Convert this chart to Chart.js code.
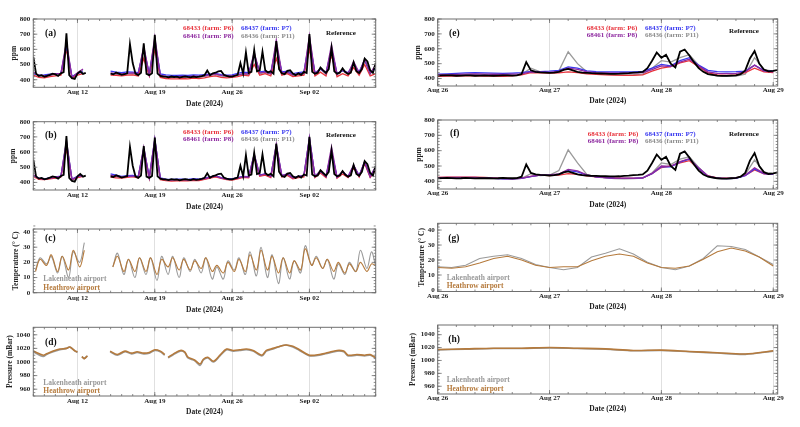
<!DOCTYPE html>
<html>
<head>
<meta charset="utf-8">
<script src="https://cdn.jsdelivr.net/npm/chart.js@4.4.1/dist/chart.umd.min.js"></script>
<style>
  body { margin: 0; background: #fff; width: 800px; height: 427px; overflow: hidden; position: relative; }
  canvas { position: absolute; }
</style>
</head>
<body>
<canvas id="pa"></canvas>
<canvas id="pb"></canvas>
<canvas id="pc"></canvas>
<canvas id="pd"></canvas>
<canvas id="pe"></canvas>
<canvas id="pf"></canvas>
<canvas id="pg"></canvas>
<canvas id="ph"></canvas>
<script>
// ---- left column: days since Aug 8 2024 ----
const longTickDays = [4, 11, 18, 25];
const longTickLabels = ['Aug 12', 'Aug 19', 'Aug 26', 'Sep 02'];

// reference analyser, every 6 h (same trace in a and b)
const refPpmLong = [
  550, 440, 425, 430,  420, 425, 432, 440,  435, 425, 442, 450,  705, 430, 410, 405,
  440, 455, 438, 445,  null, null, null, null,  null, null, null, null,  440, 435, 447, 440,
  432, 436, 442, 635,  510, 440, 430, 445,  640, 438, 430, 442,  695, 440, 425, 420,
  420, 415, 421, 418,  420, 414, 418, 422,  418, 415, 421, 417,  420, 424, 430, 460,
  430, 442, 446, 455,  458, 432, 425, 420,  420, 426, 432, 510,  440, 580, 445, 452,
  595, 455, 462, 585,  462, 448, 456, 440,  655, 470, 442, 436,  458, 462, 440, 430,
  442, 432, 452, 445,  700, 452, 440, 446,  480, 462, 445, 470,  610, 455, 440, 446,
  475, 450, 438, 447,  515, 456, 444, 470,  540, 520, 462, 445,  510
];

// sensors every 12 h, raw (a)
const p6Raw = [430,415, 412,420, 425,430, 600,410, 430,440, null,null, null,null, 430,428, 425,430, 432,425, 540,425, 600,415, 408,405, 405,408, 405,410, 408,412, 420,425, 415,412, 415,420, 430,425, 500,430, 440,425, 540,430, 440,420, 425,430, 600,425, 450,425, 560,420, 440,425, 480,430, 500,425, 440];
const p7Raw = [440,430, 432,436, 440,442, 620,420, 442,452, null,null, null,null, 456,450, 446,452, 450,446, 600,440, 650,438, 432,428, 428,430, 428,431, 430,434, 436,442, 433,430, 432,442, 450,446, 560,452, 456,446, 620,452, 456,440, 446,452, 650,446, 470,446, 600,442, 460,446, 500,452, 530,446, 470];
const p8Raw = [450,428, 425,430, 438,442, 650,415, 446,470, null,null, null,null, 445,440, 438,442, 445,440, 620,435, 680,430, 422,420, 420,422, 420,423, 422,426, 432,438, 428,425, 425,432, 440,438, 580,445, 450,440, 660,445, 450,432, 438,442, 690,440, 475,440, 630,436, 465,440, 520,445, 535,440, 500];
const p11Raw = [445,425, 422,428, 435,438, 640,412, 440,460, null,null, null,null, 440,436, 435,438, 440,436, 610,432, 670,426, 418,416, 416,418, 416,419, 418,422, 428,434, 424,421, 421,428, 436,434, 570,440, 446,436, 640,440, 446,428, 434,438, 680,436, 470,436, 600,432, 460,436, 505,440, 530,436, 495];

// sensors every 12 h, corrected (b)
const p6Cal = [440,420, 418,424, 428,436, 620,418, 432,440, null,null, null,null, 435,430, 428,434, 438,430, 600,428, 660,418, 412,408, 410,412, 410,414, 412,420, 428,436, 426,418, 416,424, 434,430, 560,440, 448,432, 620,436, 446,424, 432,436, 670,432, 462,432, 590,428, 455,432, 495,436, 525,432, 480];
const p7Cal = [445,428, 424,430, 436,442, 660,422, 440,446, null,null, null,null, 456,448, 440,444, 446,440, 620,436, 680,430, 422,420, 422,422, 420,424, 422,428, 436,444, 432,424, 424,432, 440,438, 580,450, 456,442, 640,445, 455,432, 440,446, 690,440, 472,440, 605,436, 468,440, 508,446, 535,440, 500];
const p8Cal = [450,426, 422,428, 434,440, 670,418, 438,444, null,null, null,null, 448,440, 436,440, 442,436, 630,432, 685,426, 418,416, 418,418, 416,420, 418,425, 434,442, 430,422, 420,430, 438,436, 585,448, 455,440, 650,444, 456,430, 438,446, 695,438, 478,438, 635,434, 472,438, 515,444, 538,438, 505];
const p11Cal = [448,424, 420,426, 432,438, 680,416, 436,442, null,null, null,null, 444,436, 434,438, 440,434, 632,430, 688,424, 416,414, 416,416, 414,418, 416,422, 432,440, 428,420, 418,428, 436,434, 590,446, 452,438, 652,440, 452,428, 436,444, 696,436, 476,436, 605,432, 470,436, 510,442, 535,436, 505];

// ---- right column: days since Aug 26 2024 ----
const shortTickDays = [0, 1, 2, 3];
const shortTickLabels = ['Aug 26', 'Aug 27', 'Aug 28', 'Aug 29'];

// reference, hourly (same in e and f)
const refPpmShort = [
  420, 421, 422, 421, 419, 420, 422, 421, 419, 420, 421, 420, 419, 420, 422, 421, 420, 421,
  430, 510, 455, 445, 442, 440,
  438, 440, 445, 458, 465, 455, 445, 440, 438, 436, 435, 434, 433, 432, 432, 433, 435, 437, 440, 442, 445, 470, 520, 575,
  540, 560, 500, 475, 580, 595, 555, 510, 470, 445, 430, 425, 420, 418, 418, 420, 422, 430, 455, 535, 585, 500, 460, 448, 452, 458
];

// sensors every 2 h, raw (e)
const p6RawShort = [415,416,417,418,418,417,416,415,418,425,440,438,436,438,445,440,432,428,425,423,422,422,425,450,470,480,505,520,480,440,425,422,424,440,470,445,440];
const p7RawShort = [430,432,435,438,440,438,436,435,437,440,448,447,450,455,478,470,452,447,445,444,444,445,448,470,495,485,520,540,490,455,446,445,446,450,490,455,450];
const p8RawShort = [425,426,428,430,431,430,429,428,430,432,445,443,442,448,470,462,445,440,438,437,437,438,440,460,485,480,510,530,485,445,435,433,435,445,490,450,445];
const p11RawShort = [420,421,422,423,423,422,421,420,422,428,470,445,440,452,580,500,445,432,428,425,425,426,430,470,520,510,540,560,490,430,418,415,416,430,540,460,450];

// sensors every 2 h, corrected (f)
const p6CalShort = [425,427,428,428,427,425,422,420,418,420,432,440,438,440,450,445,435,430,425,422,420,420,423,450,490,500,520,535,480,435,422,420,422,438,475,448,445];
const p7CalShort = [422,423,424,424,423,421,419,417,416,420,430,440,440,445,470,462,440,430,424,420,419,419,422,450,495,495,525,545,485,432,420,418,420,437,480,450,446];
const p8CalShort = [424,425,426,426,425,423,420,418,417,421,432,440,442,448,478,468,442,430,424,420,419,419,422,452,500,498,528,548,488,435,421,419,421,440,488,452,448];
const p11CalShort = [420,421,422,422,421,420,418,416,415,420,450,438,440,470,605,520,445,428,422,418,417,418,421,455,520,510,545,560,490,434,420,418,420,445,540,460,450];

// temperature (°C): daily (night min, afternoon max) pairs from Aug 8, then last value
const tempHeathrowLong = [14,22, 18,25, 14,24, 15,28, 17,28, null,null, null,null, 17,24, 14,22, 14,23, 14,23, 12,22, 17,23, 15,22, 15,21, 16,23, 14,18, 13,20, 14,22, 14,25, 15,28, 15,24, 13,23, 13,21, 15,29, 18,23, 16,22, 14,20, 13,19, 14,20, 14,19, 18];
const tempLakenheathLong = [15,23, 19,24, 13,24, 10,27, 20,33, null,null, null,null, 17,26, 12,22, 10,23, 12,23, 8,24, 12,24, 10,23, 14,22, 13,23, 9,17, 9,21, 15,23, 12,27, 11,30, 10,25, 6,23, 9,21, 13,31, 18,24, 16,22, 9,19, 12,20, 14,28, 16,27, 18];

// pressure (mBar) at irregular times (days since Aug 8)
const pressDays = [0, 0.9, 1.2, 1.8, 2.4, 3.0, 3.3, 3.8, 4.0, 4.2, 4.4, 4.6, 4.9, 5.5, 6.95, 7.6, 8.3, 8.9, 9.4, 10.0, 10.5, 11.0, 11.5, 11.9, 12.05, 12.2, 12.7, 13.3, 13.7, 14.0, 14.6, 15.1, 15.4, 15.8, 16.3, 16.9, 17.5, 18.1, 18.7, 19.3, 19.9, 20.7, 21.1, 21.7, 22.5, 22.9, 23.5, 24.1, 25.0, 25.9, 26.7, 27.5, 28.1, 28.5, 29.3, 30.0, 30.5, 31.0];
const pressHeathrowLong = [1016,1010,1012,1016,1019,1020,1022,1016,1015,null,1008,1005,1009,null,1016,1011,1016,1013,1015,1013,1014,1018,1016,1011,null,1007,1012,1017,1015,1007,1003,997,1004,1007,1001,1010,1019,1017,1018,1019,1017,1010,1017,1020,1024,1025,1023,1018,1010,1011,1014,1017,1016,1010,1011,1010,1011,1006];
const pressLakenheathLong = [1015,1008,1011,1015,1018,1020,1022,1016,1014,null,1008,1005,1009,null,1015,1010,1015,1012,1014,1012,1013,1017,1015,1010,null,1006,1011,1016,1014,1006,1002,995,1003,1006,1000,1009,1018,1016,1017,1018,1016,1009,1016,1019,1024,1025,1022,1017,1009,1010,1013,1016,1015,1009,1010,1009,1010,1006];

// Aug 26-29 weather: temperature every 3 h, pressure every 6 h
const tempHeathrowShort = [15,14.5,15.5,18,21,22.5,20,16.5,15,15.5,15.5,19.5,22.5,24,22.5,18,15,14.5,16,20.5,25.5,28,26,22,16];
const tempLakenheathShort = [15.5,15,16.5,21,22.5,23.5,21,17,15,13.5,15,22,24.5,27.5,24,18.5,15,13.5,16,21,29.5,29,27,22,17];
const pressHeathrowShort = [1017,1018,1019,1019,1020,1019,1018,1015.5,1016,1014,1012,1010,1015];
const pressLakenheathShort = [1016.5,1017.5,1018.5,1018.5,1019.5,1018.5,1017.5,1015,1015.5,1013.5,1011.5,1009.5,1014.5];

const FONT = '"Liberation Serif", "Times New Roman", serif';
const RED = '#e8333c', BLUE = '#3a3af0', PURPLE = '#8e2aa0', GREY = '#9a9a9a', BROWN = '#b57a3c';

function grid(n, step) { return Array.from({ length: n }, (_, i) => i * step); }
function pts(times, vals) { return vals.map((v, i) => ({ x: times[i], y: v })); }
function line(data, color, width, tension) {
  return { data, borderColor: color, borderWidth: width, pointRadius: 0, tension: tension || 0, spanGaps: false, fill: false };
}
function range(a, b, step) { const out = []; for (let v = a; v <= b + 1e-9; v += step) out.push(+v.toFixed(4)); return out; }

// times for the min/max temperature pairs: 05:00 and 15:00 each day
const tempPairTimes = tempHeathrowLong.map((_, i) => i === tempHeathrowLong.length - 1 ? 30.98 : Math.floor(i / 2) + (i % 2 ? 0.62 : 0.2));

function farmTexts(letter, lx, ly, c1, c2, r1, r2, refX, refY) {
  return [
    { text: letter, x: lx, y: ly, color: '#111', size: 9.5 },
    { text: '68433 (farm: P6)', x: c1, y: r1, color: RED, size: 7 },
    { text: '68437 (farm: P7)', x: c2, y: r1, color: BLUE, size: 7 },
    { text: '68461 (farm: P8)', x: c1, y: r2, color: PURPLE, size: 7 },
    { text: '68436 (farm: P11)', x: c2, y: r2, color: '#8c8c8c', size: 7 },
    { text: 'Reference', x: refX, y: refY, color: '#111', size: 7 }
  ];
}
function airportTexts(letter, lx, ly, ax, y1, y2) {
  return [
    { text: letter, x: lx, y: ly, color: '#111', size: 9.5 },
    { text: 'Lakenheath airport', x: ax, y: y1, color: '#999', size: 7.5 },
    { text: 'Heathrow airport', x: ax, y: y2, color: BROWN, size: 7.5 }
  ];
}

const decor = {};

// frame with inward ticks on all four sides, plus panel texts
Chart.register({
  id: 'panelDecor',
  afterDatasetsDraw(chart) {
    const d = decor[chart.canvas.id];
    const { ctx, chartArea: a, scales: { x, y } } = chart;
    ctx.save();
    ctx.strokeStyle = '#6f6f6f';
    ctx.lineWidth = 1;
    ctx.strokeRect(a.left, a.top, a.right - a.left, a.bottom - a.top);
    ctx.lineWidth = 0.8;
    ctx.beginPath();
    const xt = (v, len) => {
      const p = x.getPixelForValue(v);
      ctx.moveTo(p, a.bottom); ctx.lineTo(p, a.bottom - len);
      ctx.moveTo(p, a.top); ctx.lineTo(p, a.top + len);
    };
    const yt = (v, len) => {
      const p = y.getPixelForValue(v);
      ctx.moveTo(a.left, p); ctx.lineTo(a.left + len, p);
      ctx.moveTo(a.right, p); ctx.lineTo(a.right - len, p);
    };
    d.xMinor.forEach(v => xt(v, 2));
    d.xTicks.forEach(v => xt(v, 4));
    d.yMinor.forEach(v => yt(v, 2));
    d.yTicks.forEach(v => yt(v, 4));
    ctx.stroke();
    ctx.restore();
  },
  afterDraw(chart) {
    const d = decor[chart.canvas.id];
    const ctx = chart.ctx;
    ctx.save();
    ctx.textBaseline = 'middle';
    ctx.textAlign = 'left';
    d.texts.forEach(t => {
      ctx.font = 'bold ' + t.size + 'px ' + FONT;
      ctx.fillStyle = t.color;
      ctx.fillText(t.text, t.x - d.box.x, t.y - d.box.y);
    });
    ctx.restore();
  }
});

function makePanel(id, cfg) {
  const cv = document.getElementById(id);
  cv.width = cfg.box.w;
  cv.height = cfg.box.h;
  cv.style.left = cfg.box.x + 'px';
  cv.style.top = cfg.box.y + 'px';
  decor[id] = cfg;
  const area = cfg.area;
  return new Chart(cv, {
    type: 'line',
    data: { datasets: cfg.datasets },
    options: {
      responsive: false,
      animation: false,
      devicePixelRatio: 1,
      layout: { padding: { top: area.t - cfg.box.y, right: cfg.box.x + cfg.box.w - area.r, left: 0, bottom: 0 } },
      plugins: { legend: { display: false }, tooltip: { enabled: false } },
      scales: {
        x: {
          type: 'linear',
          min: cfg.xMin,
          max: cfg.xMax,
          afterBuildTicks: s => { s.ticks = cfg.xTicks.map(v => ({ value: v })); },
          afterFit: s => { s.height = cfg.box.y + cfg.box.h - area.b; },
          ticks: {
            autoSkip: false, maxRotation: 0, padding: cfg.xTickPad,
            font: { family: FONT, size: 7, weight: 'bold' }, color: '#222',
            callback: v => { const i = cfg.xTicks.indexOf(v); return i >= 0 ? cfg.xLabels[i] : ''; }
          },
          grid: { color: '#d8d8d8', lineWidth: 0.8, drawTicks: false },
          border: { display: false },
          title: { display: true, text: 'Date (2024)', color: '#222', font: { family: FONT, size: 7.5, weight: 'bold' }, padding: { top: 0, bottom: 1 } }
        },
        y: {
          min: cfg.yMin,
          max: cfg.yMax,
          afterBuildTicks: s => { s.ticks = cfg.yTicks.map(v => ({ value: v })); },
          afterFit: s => { s.width = area.l - cfg.box.x; },
          ticks: { padding: 3, font: { family: FONT, size: 7, weight: 'bold' }, color: '#222', callback: v => String(v) },
          grid: { display: false, drawTicks: false },
          border: { display: false },
          title: { display: true, text: cfg.yTitle, color: '#222', font: { family: FONT, size: 7.5, weight: 'bold' }, padding: { top: cfg.yTitlePad, bottom: 0 } }
        }
      }
    }
  });
}

const t6h = grid(refPpmLong.length, 0.25);
const t12h = grid(p6Raw.length, 0.5);
const t1hShort = grid(refPpmShort.length, 1 / 24);
const t2hShort = grid(p6RawShort.length, 1 / 12);
const t3hShort = grid(tempHeathrowShort.length, 1 / 8);
const t6hShort = grid(pressHeathrowShort.length, 1 / 4);

const longX = { xMin: 0, xMax: 31, xTicks: longTickDays, xLabels: longTickLabels, xMinor: range(0, 31, 1), xTickPad: 1 };
const shortX = { xMin: 0, xMax: 3.04, xTicks: shortTickDays, xLabels: shortTickLabels, xMinor: range(0, 3, 1 / 6), xTickPad: 0 };
const ppmY = { yMin: 350, yMax: 800, yTicks: [400, 500, 600, 700, 800], yMinor: range(360, 800, 20), yTitle: 'ppm' };
const tempY = { yTicks: [0, 10, 20, 30, 40], yMinor: range(0, 44, 2), yTitle: 'Temperature (° C)' };
const pressY = { yTicks: [960, 980, 1000, 1020, 1040], yMinor: range(950, 1050, 5), yTitle: 'Pressure (mBar)' };

function farmSets(ref, rt, ct, p6, p7, p8, p11) {
  return [
    line(pts(rt, ref), '#000', 1.8),
    line(pts(ct, p8), PURPLE, 1.3),
    line(pts(ct, p7), BLUE, 1.3),
    line(pts(ct, p6), RED, 1.3),
    line(pts(ct, p11), GREY, 1.3)
  ];
}

makePanel('pa', Object.assign({}, longX, ppmY, {
  box: { x: 0, y: 0, w: 400, h: 110 }, area: { l: 33.3, t: 19, r: 375.7, b: 87.3 }, yTitlePad: 9.5,
  datasets: farmSets(refPpmLong, t6h, t12h, p6Raw, p7Raw, p8Raw, p11Raw),
  texts: farmTexts('(a)', 45, 33.3, 183, 241, 28.3, 35.7, 326, 32.7)
}));
makePanel('pb', Object.assign({}, longX, ppmY, {
  box: { x: 0, y: 110, w: 400, h: 103 }, area: { l: 33.3, t: 121.7, r: 375.7, b: 190 }, yTitlePad: 8.8,
  datasets: farmSets(refPpmLong, t6h, t12h, p6Cal, p7Cal, p8Cal, p11Cal),
  texts: farmTexts('(b)', 45, 135.3, 183, 241, 131.7, 139.3, 326, 135)
}));
makePanel('pc', Object.assign({}, longX, tempY, {
  box: { x: 0, y: 215, w: 400, h: 101 }, area: { l: 33.3, t: 229, r: 375.7, b: 292.7 }, yMin: 0, yMax: 42, yTitlePad: 11.5,
  datasets: [
    line(pts(tempPairTimes, tempHeathrowLong), BROWN, 1.1, 0.35),
    line(pts(tempPairTimes, tempLakenheathLong), GREY, 1.1, 0.35)
  ],
  texts: airportTexts('(c)', 45, 239, 43.3, 279.3, 288.3)
}));
makePanel('pd', Object.assign({}, longX, pressY, {
  box: { x: 0, y: 318, w: 400, h: 100 }, area: { l: 33.3, t: 327.3, r: 375.7, b: 396 }, yMin: 950, yMax: 1051, yTitlePad: 5.5,
  datasets: [
    line(pts(pressDays, pressHeathrowLong), BROWN, 1.6, 0.3),
    line(pts(pressDays, pressLakenheathLong), GREY, 1.6, 0.3)
  ],
  texts: airportTexts('(d)', 45, 342.7, 43.3, 382.7, 391)
}));
makePanel('pe', Object.assign({}, shortX, ppmY, {
  box: { x: 400, y: 0, w: 400, h: 107 }, area: { l: 437.7, t: 19, r: 777.7, b: 86 }, yTitlePad: 13.8,
  datasets: farmSets(refPpmShort, t1hShort, t2hShort, p6RawShort, p7RawShort, p8RawShort, p11RawShort),
  texts: farmTexts('(e)', 449, 33.3, 586.7, 645, 28.3, 34.7, 729, 31.3)
}));
makePanel('pf', Object.assign({}, shortX, ppmY, {
  box: { x: 400, y: 110, w: 400, h: 101 }, area: { l: 437.7, t: 120, r: 777.7, b: 189 }, yTitlePad: 14.8,
  datasets: farmSets(refPpmShort, t1hShort, t2hShort, p6CalShort, p7CalShort, p8CalShort, p11CalShort),
  texts: farmTexts('(f)', 450, 134, 587.7, 645, 134.3, 140.7, 729, 134)
}));
makePanel('pg', Object.assign({}, shortX, tempY, {
  box: { x: 400, y: 213, w: 400, h: 100 }, area: { l: 437.7, t: 223.3, r: 777.7, b: 291.5 }, yMin: -1, yMax: 44.5, yTitlePad: 17.2,
  datasets: [
    line(pts(t3hShort, tempHeathrowShort), BROWN, 1.1),
    line(pts(t3hShort, tempLakenheathShort), GREY, 1.1)
  ],
  texts: airportTexts('(g)', 448.3, 239, 446.7, 277.7, 286)
}));
makePanel('ph', Object.assign({}, shortX, pressY, {
  box: { x: 400, y: 316, w: 400, h: 99 }, area: { l: 437.7, t: 325, r: 777.7, b: 394 }, yMin: 948, yMax: 1055, yTitlePad: 8.8,
  datasets: [
    line(pts(t6hShort, pressHeathrowShort), BROWN, 1.6, 0.3),
    line(pts(t6hShort, pressLakenheathShort), GREY, 1.6, 0.3)
  ],
  texts: airportTexts('(h)', 448.3, 340, 446.7, 380.3, 389)
}));
</script>
</body>
</html>
